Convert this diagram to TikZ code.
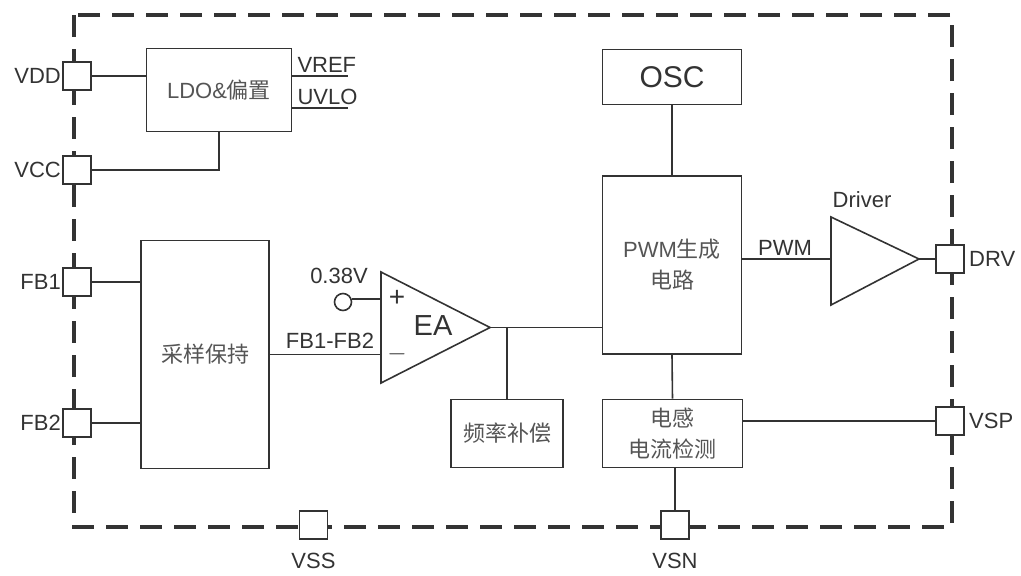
\documentclass[tikz,border=0pt]{standalone}
\usepackage{fontspec}
\setmainfont{Liberation Sans}
\newfontfamily\cjk{Noto Sans CJK SC}
\usetikzlibrary{calc}
\definecolor{ln}{HTML}{333333}
\definecolor{cn}{HTML}{555555}
\tikzset{
  blk/.style={draw=ln, line width=1.6pt, fill=white, minimum width=#1, inner sep=0pt, align=center, text=cn},
  pin/.style={draw=ln, line width=1.6pt, fill=white, minimum width=28pt, minimum height=28pt, inner sep=0pt},
  wire/.style={draw=ln, line width=1.6pt},
  lbl/.style={text=ln, inner sep=0pt, font=\fontsize{22}{26}\selectfont},
  border/.style={draw=ln, line width=3.5pt, dash pattern=on 22pt off 12pt},
}
\begin{document}
\begin{tikzpicture}[x=1pt,y=-1pt, font=\fontsize{22}{31}\selectfont]
\useasboundingbox (0,0) rectangle (1021,576);
% border
\draw[border] (74,15) rectangle (952,527);
% blocks
\node[blk=145pt, minimum height=83pt] (ldo) at (219,90) {LDO\&{\cjk 偏置}};
\node[blk=139pt, minimum height=55pt, text=ln, font=\fontsize{30}{34}\selectfont] (osc) at (672,77) {OSC};
\node[blk=139pt, minimum height=178pt] (pwm) at (672,265) {PWM{\cjk 生成}\\{\cjk 电路}};
\node[blk=128pt, minimum height=228pt] (sh) at (205,354.5) {\cjk 采样保持};
\node[blk=112pt, minimum height=68pt] (comp) at (507,433.5) {\cjk 频率补偿};
\node[blk=140pt, minimum height=68pt] (isense) at (672.5,433.5) {{\cjk 电感}\\{\cjk 电流检测}};
% pins
\node[pin] (pvdd) at (77,76) {};
\node[pin] (pvcc) at (77,170) {};
\node[pin] (pfb1) at (77,282) {};
\node[pin] (pfb2) at (77,423) {};
\node[pin] (pvss) at (313.5,525) {};
\node[pin] (pvsn) at (675,525) {};
\node[pin] (pvsp) at (950,421) {};
\node[pin] (pdrv) at (950,259) {};
% pin labels
\node[lbl, anchor=east] (tvdd) at (61,76) {VDD};
\node[lbl, anchor=east] (tvcc) at (61,170) {VCC};
\node[lbl, anchor=east] (tfb1) at (61,282) {FB1};
\node[lbl, anchor=east] (tfb2) at (61,423) {FB2};
\node[lbl] (tvss) at (313.5,561) {VSS};
\node[lbl] (tvsn) at (675,561) {VSN};
\node[lbl, anchor=west] (tvsp) at (969,421) {VSP};
\node[lbl, anchor=west] (tdrv) at (969,259) {DRV};
% EA triangle
\coordinate (eatop) at (381,272);
\coordinate (eabot) at (381,383);
\coordinate (eaout) at (490,327.5);
\coordinate (eap) at (381,299);
\coordinate (ean) at (381,354.5);
\draw[wire, line join=miter] (eatop) -- (eaout) -- (eabot) -- cycle;
\node[lbl, font=\fontsize{29}{32}\selectfont] (ea) at (433,326) {EA};
\node[lbl, font=\fontsize{28}{30}\selectfont] (plus) at (397,298) {+};
\node[lbl, font=\fontsize{26}{30}\selectfont] (minus) at (397,354) {$-$};
% Driver triangle
\coordinate (drtop) at (831,217);
\coordinate (drbot) at (831,305);
\coordinate (drout) at (919,259);
\coordinate (drin) at (831,259);
\draw[wire, line join=miter] (drtop) -- (drout) -- (drbot) -- cycle;
\node[lbl] (tdriver) at (862,200) {Driver};
% reference source
\node[draw=ln, line width=1.6pt, circle, minimum size=17pt, inner sep=0pt] (vref) at (343,302) {};
\node[lbl] (t038) at (339,276) {0.38V};
% wires
\draw[wire] (pvdd.east) -- (ldo.west |- pvdd.east);
\draw[wire] (pvcc.east) -| (ldo.south);
\coordinate (vrefa) at ($(ldo.north east)+(0,28)$);
\coordinate (vrefb) at ($(vrefa)+(56,0)$);
\coordinate (uvloa) at ($(ldo.north east)+(0,60)$);
\coordinate (uvlob) at ($(uvloa)+(56,0)$);
\draw[wire] (vrefa) -- (vrefb);
\draw[wire] (uvloa) -- (uvlob);
\node[lbl, anchor=south west] (tvref) at ($(vrefa)+(5,-3)$) {VREF};
\node[lbl, anchor=south west] (tuvlo) at ($(uvloa)+(5,-3)$) {UVLO};
\draw[wire] (pfb1.east) -- (sh.west |- pfb1.east);
\draw[wire] (pfb2.east) -- (sh.west |- pfb2.east);
\draw[wire] (sh.east |- ean) -- (ean);
\node[lbl, anchor=south] (tfbd) at (330,349) {FB1-FB2};
\draw[wire] (vref.east |- eap) -- (eap);
\draw[wire] (eaout) -- (eaout -| pwm.west);
\draw[wire] (comp.north |- eaout) -- (comp.north);
\draw[wire] (osc.south) -- (pwm.north);
\draw[wire] (pwm.south) -- (isense.north);
\draw[wire] (isense.south -| pvsn.north) -- (pvsn.north);
\draw[wire] (pvsp.west) -- (pvsp.west -| isense.east);
\draw[wire] (pwm.east |- drin) -- (drin);
\node[lbl, anchor=south] (tpwm) at (785,256) {PWM};
\draw[wire] (drout) -- (pdrv.west);
\end{tikzpicture}
\end{document}
